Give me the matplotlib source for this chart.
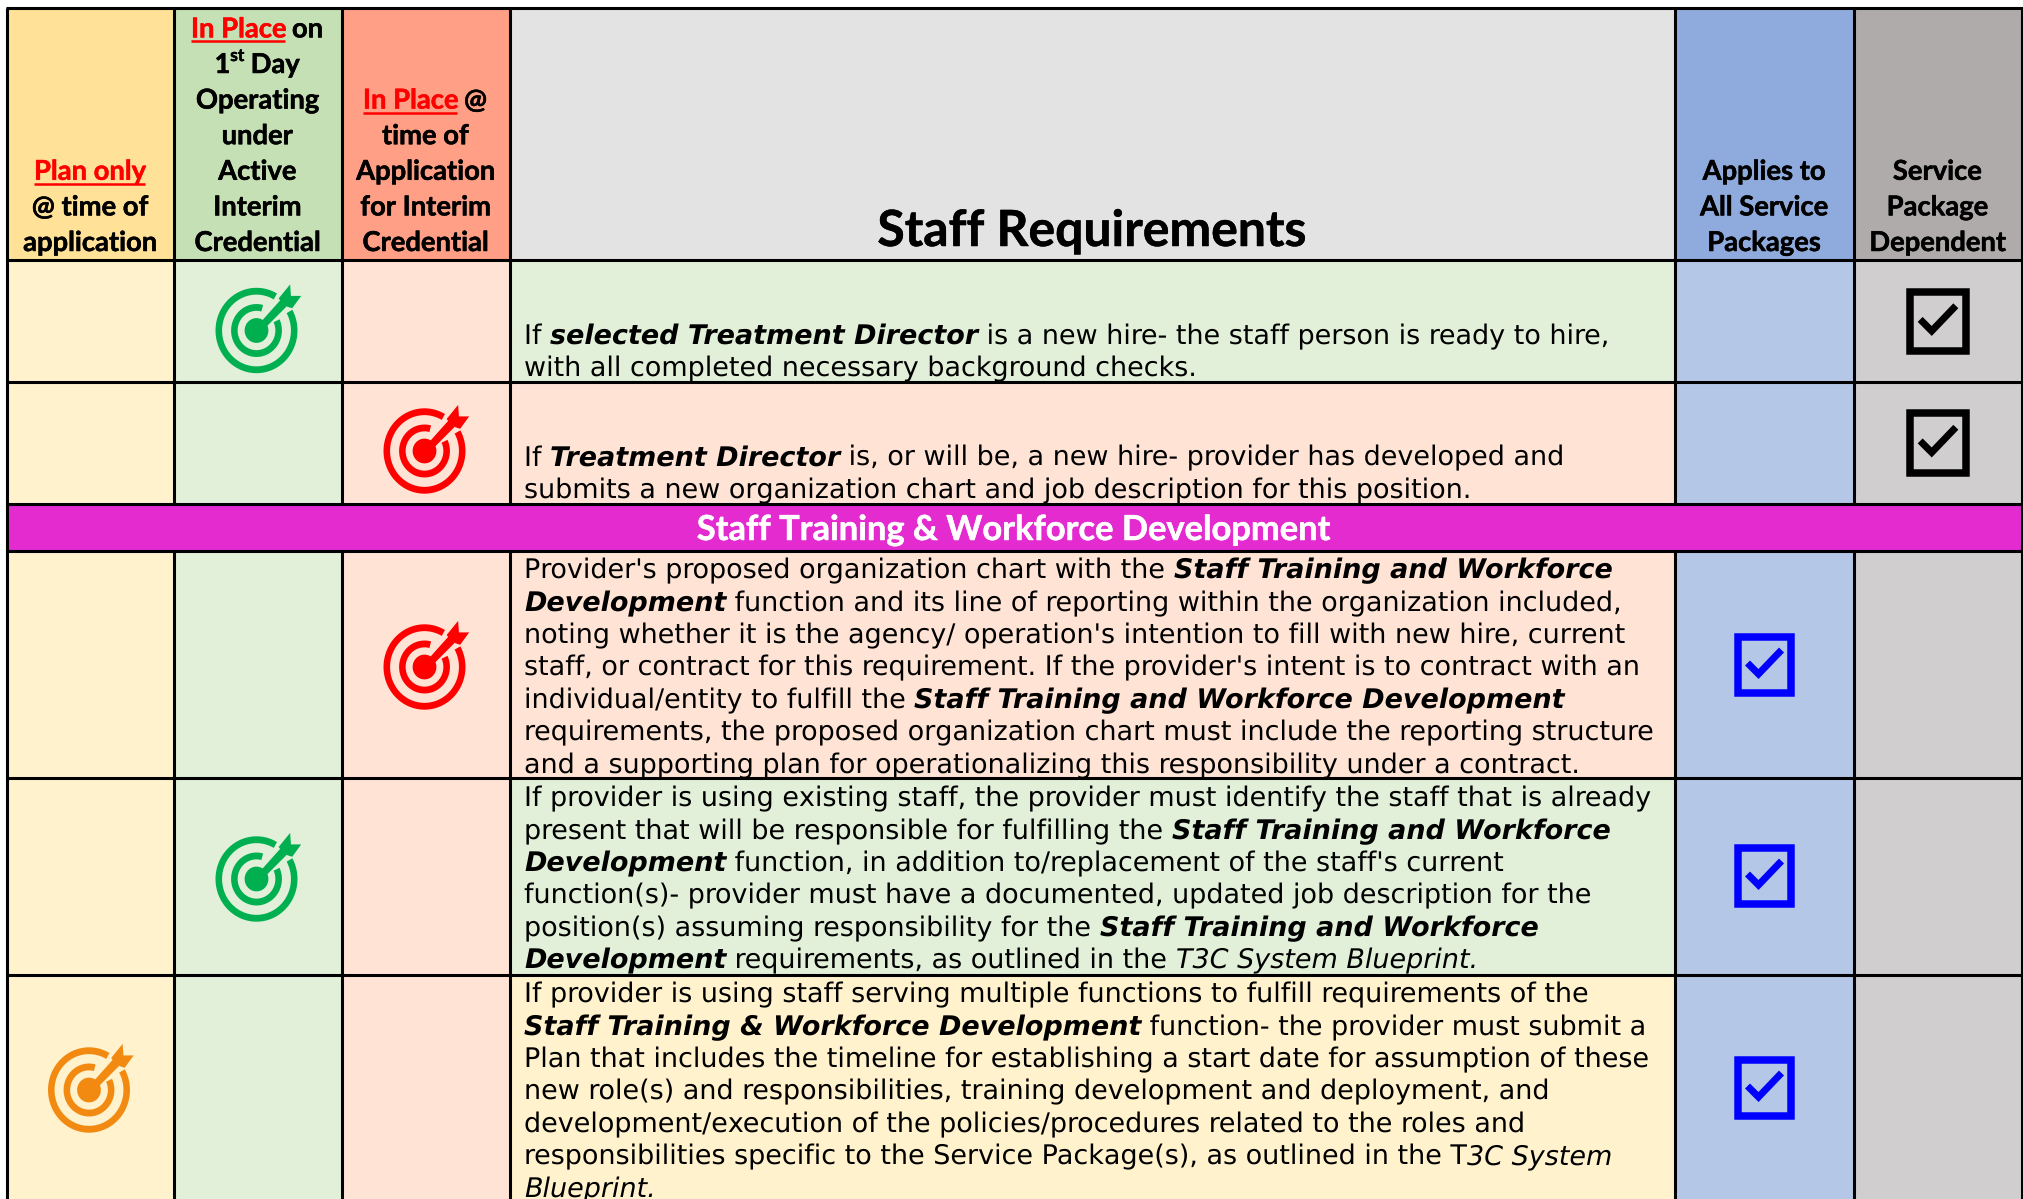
import numpy as np
import matplotlib
matplotlib.use("Agg")
import matplotlib.pyplot as plt
import matplotlib.patheffects as pe
from matplotlib.font_manager import FontProperties as FP
from matplotlib.patches import Rectangle, Polygon

plt.rcParams["text.hinting"] = "no_hinting"
plt.rcParams["text.hinting_factor"] = 1

W, H = 2023, 1199
COL_EDGES = [7, 174, 342, 510, 1675, 1854, 2022]
ROW_EDGES = [8, 260, 382, 504, 551, 778, 975, 1199]

HEADER_COLORS = ["#FFE198", "#C5E0B4", "#FF9F85", "#E3E3E3", "#8FAADC", "#AFABAB"]
BODY_COLORS = ["#FFF2CC", "#E2F0D9", "#FFE4D6", None, "#B4C7E7", "#D0CECE"]
TEXT_COLORS = {"g": "#E2F0D9", "s": "#FFE4D6", "y": "#FFF2CC"}
BAND_COLOR = "#E32BD0"
BAND_TITLE = "Staff Training & Workforce Development"
MAIN_TITLE = "Staff Requirements"

# header: each line is a list of (text, style); r = red underlined
HEADERS = {
    0: [[("Plan only", "r")], [("@ time of", "k")], [("application", "k")]],
    1: [[("In Place", "r"), (" on", "k")], [("1", "k"), ("st", "sup"), (" Day", "k")],
        [("Operating", "k")], [("under", "k")], [("Active", "k")], [("Interim", "k")],
        [("Credential", "k")]],
    2: [[("In Place", "r"), (" @", "k")], [("time of", "k")], [("Application", "k")],
        [("for Interim", "k")], [("Credential", "k")]],
    4: [[("Applies to", "k")], [("All Service", "k")], [("Packages", "k")]],
    5: [[("Service", "k")], [("Package", "k")], [("Dependent", "k")]],
}

STW = "Staff Training and Workforce"
BODY = [
    ("g", 1, "#00B050", 0, [
        [("If ", "n"), ("selected Treatment Director", "b"), (" is a new hire- the staff person is ready to hire,", "n")],
        [("with all completed necessary background checks.", "n")]]),
    ("s", 2, "#FF0000", 0, [
        [("If ", "n"), ("Treatment Director", "b"), (" is, or will be, a new hire- provider has developed and", "n")],
        [("submits a new organization chart and job description for this position.", "n")]]),
    ("s", 2, "#FF0000", 1, [
        [("Provider's proposed organization chart with the ", "n"), (STW, "b")],
        [("Development", "b"), (" function and its line of reporting within the organization included,", "n")],
        [("noting whether it is the agency/ operation's intention to fill with new hire, current", "n")],
        [("staff, or contract for this requirement. If the provider's intent is to contract with an", "n")],
        [("individual/entity to fulfill the ", "n"), ("Staff Training and Workforce Development", "b")],
        [("requirements, the proposed organization chart must include the reporting structure", "n")],
        [("and a supporting plan for operationalizing this responsibility under a contract.", "n")]]),
    ("g", 1, "#00B050", 1, [
        [("If provider is using existing staff, the provider must identify the staff that is already", "n")],
        [("present that will be responsible for fulfilling the ", "n"), (STW, "b")],
        [("Development", "b"), (" function, in addition to/replacement of the staff's current", "n")],
        [("function(s)- provider must have a documented, updated job description for the", "n")],
        [("position(s) assuming responsibility for the ", "n"), (STW, "b")],
        [("Development", "b"), (" requirements, as outlined in the ", "n"), ("T3C System Blueprint.", "i")]]),
    ("y", 0, "#F28A12", 1, [
        [("If provider is using staff serving multiple functions to fulfill requirements of the", "n")],
        [("Staff Training & Workforce Development", "b"), (" function- the provider must submit a", "n")],
        [("Plan that includes the timeline for establishing a start date for assumption of these", "n")],
        [("new role(s) and responsibilities, training development and deployment, and", "n")],
        [("development/execution of the policies/procedures related to the roles and", "n")],
        [("responsibilities specific to the Service Package(s), as outlined in the T", "n"), ("3C System", "i")],
        [("Blueprint.", "i")]]),
]
BODY_ROWS = [1, 2, 4, 5, 6]
FIRST_BASELINES = [344, 465.5, 578.5, 806.5, 1002.5]
LINE_PITCH = 32.4
HEADER_BOTTOM_BASELINE = 251
HEADER_PITCH = 35.6

fig = plt.figure(figsize=(W / 100, H / 100), dpi=100, facecolor="white")
ax = fig.add_axes([0, 0, 1, 1])
ax.set_xlim(0, W)
ax.set_ylim(H, 0)
ax.axis("off")
fig.canvas.draw()
rend = fig.canvas.get_renderer()

def width(s, fp):
    a = rend.get_text_width_height_descent("|" + s + "|", fp, False)[0]
    b = rend.get_text_width_height_descent("||", fp, False)[0]
    return a - b

FONT = "DejaVu Sans"
body_fp = {"n": FP(family=FONT, size=19.33),
           "b": FP(family=FONT, size=19.2, weight="bold", style="italic"),
           "i": FP(family=FONT, size=19.33, style="italic")}
HF = "Lato"
head_fp = FP(family=HF, size=19.7, weight="bold")
sup_fp = FP(family=HF, size=12.5, weight="bold")
STROKE = [pe.withStroke(linewidth=0.35, foreground="black")]
STROKE_R = [pe.withStroke(linewidth=0.35, foreground="#FF0000")]
STROKE_W = [pe.withStroke(linewidth=0.35, foreground="white")]

def rect(x0, y0, x1, y1, color):
    ax.add_patch(Rectangle((x0, y0), x1 - x0, y1 - y0, fc=color, ec="none", zorder=1))

# fills
for c in range(6):
    rect(COL_EDGES[c], ROW_EDGES[0], COL_EDGES[c + 1], ROW_EDGES[1], HEADER_COLORS[c])
    for i, r in enumerate(BODY_ROWS):
        col = BODY_COLORS[c] or TEXT_COLORS[BODY[i][0]]
        rect(COL_EDGES[c], ROW_EDGES[r], COL_EDGES[c + 1], ROW_EDGES[r + 1], col)
rect(COL_EDGES[0], ROW_EDGES[3], COL_EDGES[-1], ROW_EDGES[4], BAND_COLOR)

# grid
LW = 2.2
for x in COL_EDGES:
    for y0, y1 in [(ROW_EDGES[0], ROW_EDGES[3]), (ROW_EDGES[4], ROW_EDGES[7])]:
        ax.plot([x, x], [y0, y1], color="black", lw=LW, zorder=3, solid_capstyle="butt")
ax.plot([COL_EDGES[0]] * 2, [ROW_EDGES[3], ROW_EDGES[4]], color="black", lw=LW, zorder=3)
ax.plot([COL_EDGES[-1]] * 2, [ROW_EDGES[3], ROW_EDGES[4]], color="black", lw=LW, zorder=3)
for y in ROW_EDGES[:-1]:
    ax.plot([COL_EDGES[0] - 1, COL_EDGES[-1] + 1], [y, y], color="black", lw=LW, zorder=3, solid_capstyle="butt")

# header text
for c, lines in HEADERS.items():
    cx = (COL_EDGES[c] + COL_EDGES[c + 1]) / 2 - 1.2
    n = len(lines)
    for k, runs in enumerate(lines):
        y = HEADER_BOTTOM_BASELINE - (n - 1 - k) * HEADER_PITCH
        total = sum(width(t, sup_fp if s == "sup" else head_fp) for t, s in runs)
        x = cx - total / 2
        for t, s in runs:
            fp = sup_fp if s == "sup" else head_fp
            w = width(t, fp)
            ax.text(x, y - (12 if s == "sup" else 0), t, fontproperties=fp, va="baseline", ha="left",
                    color="#FF0000" if s == "r" else "black", zorder=4,
                    path_effects=STROKE_R if s == "r" else STROKE)
            if s == "r":
                ax.plot([x, x + w], [y + 4, y + 4], color="#FF0000", lw=1.8, zorder=4, solid_capstyle="butt")
            x += w

ax.text(1092.5, 246, MAIN_TITLE, fontproperties=FP(family=HF, size=35.9, weight="bold"),
        ha="center", va="baseline", color="black", zorder=4, path_effects=STROKE)
ax.text(1009.5, 540, BAND_TITLE, fontproperties=FP(family=HF, size=24.8, weight="bold"),
        ha="center", va="baseline", color="white", zorder=4, path_effects=STROKE_W)

# body text
for i, (_, _, _, _, lines) in enumerate(BODY):
    for k, runs in enumerate(lines):
        x = 524
        y = FIRST_BASELINES[i] + k * LINE_PITCH
        for t, s in runs:
            ax.text(x, y, t, fontproperties=body_fp[s], va="baseline", ha="left", color="black", zorder=4,
                    clip_on=True)
            x += width(t, body_fp[s])

# target icon (unit shape, scaled to a slightly tall ellipse)
def ring(r0, r1, a0, a1):
    t = np.radians(np.linspace(a0, a1, 90))
    return np.r_[np.c_[r1 * np.cos(t), r1 * np.sin(t)], np.c_[r0 * np.cos(t[::-1]), r0 * np.sin(t[::-1])]]

def target(cx, cy, color, rx=41, ry=42.7):
    def add(pts):
        pts = np.asarray(pts, float)
        ax.add_patch(Polygon(np.c_[cx + pts[:, 0] * rx, cy - pts[:, 1] * ry], closed=True, fc=color, ec="none", zorder=4))
    add(ring(0.84, 1.0, 60, 389))
    add(ring(0.46, 0.62, 75, 385))
    t = np.radians(np.linspace(0, 360, 60))
    add(np.c_[0.29 * np.cos(t), 0.29 * np.sin(t)])
    add([(0.05, 0.14), (0.59, 0.72), (0.73, 0.56), (0.17, 0.02)])
    add([(0.82, 1.08), (0.54, 0.75), (0.68, 0.58), (0.87, 0.52), (1.09, 0.81), (0.84, 0.81)])

CENTERS = [(256.5, 330.5), (424.5, 451), (424.5, 667), (256.5, 879), (89, 1090)]
for (cx, cy), b in zip(CENTERS, BODY):
    target(cx, cy, b[2])

# check boxes
def checkbox(cx, cy, color, w, h, th=7.5):
    ax.add_patch(Rectangle((cx - w / 2 + th / 2, cy - h / 2 + th / 2), w - th, h - th, fc="none", ec=color,
                           lw=th * 0.72, zorder=4, joinstyle="miter"))
    s = w / 61
    ax.plot([cx - 17 * s, cx - 6 * s, cx + 17 * s], [cy - 2 * s, cy + 9 * s, cy - 15 * s], color=color,
            lw=7 * 0.72, zorder=4, solid_joinstyle="miter", solid_capstyle="butt")

CHECK_COLORS = ["#0000FF", "#000000"]
CHECK_SIZES = [(61, 63), (64, 67)]
CHECK_Y = [321.5, 443, 665, 876, 1088]
CHECK_CX = [1764.5, 1938]
for b, y in zip(BODY, CHECK_Y):
    k = 0 if b[3] else 1
    checkbox(CHECK_CX[k], y, CHECK_COLORS[k], *CHECK_SIZES[k])

fig.savefig("out.png", dpi=100, facecolor="white")
